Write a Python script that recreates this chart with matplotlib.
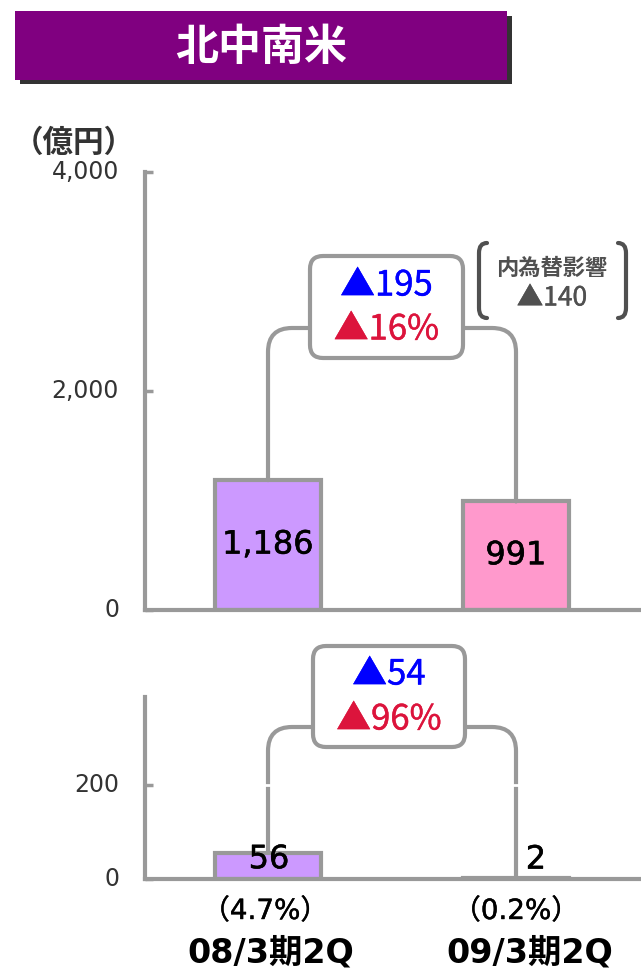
import matplotlib
matplotlib.use('Agg')
import matplotlib.pyplot as plt
import matplotlib.patheffects as pe
from matplotlib.patches import FancyBboxPatch, Rectangle, PathPatch
from matplotlib.path import Path
from matplotlib.transforms import Affine2D

plt.rcParams['font.family'] = ['Noto Sans CJK JP', 'DejaVu Sans']
NUM_FONT = ['DejaVu Sans', 'Noto Sans CJK JP']

# data
periods = ['08/3期2Q', '09/3期2Q']
sales = [1186, 991]
profit = [56, 2]
margin_labels = ['（4.7%）', '（0.2%）']
sales_change = ['▲195', '▲16%']
profit_change = ['▲54', '▲96%']
fx_label = '内為替影響'
fx_value = '▲140'
sales_ticks = [0, 2000, 4000]
profit_ticks = [0, 200]
bar_colors = ['#CC99FF', '#FF99CC']

GRAY = '#999999'
DARK = '#333333'
W, H = 641, 969
fig = plt.figure(figsize=(W / 100, H / 100), dpi=100)
# pixel coords, y measured from the top
pix = Affine2D().scale(0.01, -0.01).translate(0, H / 100) + fig.dpi_scale_trans


def heavy(color, w=0.4):
    return [pe.withStroke(linewidth=w, foreground=color)]


def axrect(x0, y0, x1, y1):
    return [x0 / W, 1 - y1 / H, (x1 - x0) / W, (y1 - y0) / H]


ax1 = fig.add_axes(axrect(145, 172, 641, 610))
ax2 = fig.add_axes(axrect(145, 697, 641, 879))
x = [0, 1]

for ax, vals, ticks, top in [(ax1, sales, sales_ticks, 4000), (ax2, profit, profit_ticks, 387)]:
    ax.bar(x, vals, width=0.43, color=bar_colors, edgecolor=GRAY, linewidth=3, zorder=2)
    ax.set_xlim(-0.496, 1.504)
    ax.set_ylim(0, top)
    ax.patch.set_visible(False)
    for s in ['top', 'right']:
        ax.spines[s].set_visible(False)
    for s in ['left', 'bottom']:
        ax.spines[s].set_color(GRAY)
        ax.spines[s].set_linewidth(3)
        ax.spines[s].set_zorder(3)
    ax.set_xticks([])
    ax.set_yticks(ticks)
    ax.tick_params(axis='y', direction='in', length=6, width=2.5, color=GRAY, labelleft=False)
    for t in ticks:
        ax.annotate(f'{t:,}', xy=(0, t), xycoords=('axes fraction', 'data'),
                    xytext=(-26, 0), textcoords='offset pixels', ha='right', va='center',
                    fontsize=17, color=DARK, family=NUM_FONT)

# value labels
for xi, v in zip(x, sales):
    ax1.text(xi, v / 2, f'{v:,}', ha='center', va='center', fontsize=23, color='black',
             zorder=4, family=NUM_FONT, path_effects=heavy('black'))
label_offsets = [(1, -7), (20, 18)]
for xi, v, off in zip(x, profit, label_offsets):
    ax2.annotate(f'{v:,}', xy=(xi, v), xytext=off, textcoords='offset pixels',
                 ha='center', va='center', fontsize=23, color='black', zorder=6,
                 family=NUM_FONT, path_effects=heavy('black'))

cat_offsets = [3, 14]
for xi, m, p, dx in zip(x, margin_labels, periods, cat_offsets):
    ax2.annotate(m, xy=(xi, 0), xytext=(-3 if xi == 0 else 0, -32), textcoords='offset pixels',
                 ha='center', va='center', fontsize=20, color='black', family=NUM_FONT,
                 path_effects=heavy('black', 0.3))
    ax2.annotate(p, xy=(xi, 0), xytext=(dx, -74), textcoords='offset pixels',
                 ha='center', va='center', fontsize=24, fontweight='bold', color='black',
                 family=NUM_FONT)


def change_box(ax, vals, box, hline_y, texts, text_y):
    x0, y0, x1, y1 = box
    for xi, v, edge in zip(x, vals, [x0, x1]):
        ax.annotate('', xy=(xi, v), xycoords='data', xytext=(edge, hline_y), textcoords=pix,
                    arrowprops=dict(arrowstyle='-', color=GRAY, lw=3, shrinkA=0, shrinkB=0,
                                    connectionstyle='angle,angleA=0,angleB=90,rad=24'))
    fig.add_artist(FancyBboxPatch((x0, y0), x1 - x0, y1 - y0, transform=pix,
                                  boxstyle='round,pad=0,rounding_size=13',
                                  facecolor='white', edgecolor=GRAY, linewidth=3, zorder=5))
    for t, ty, c in zip(texts, text_y, ['#0000FF', '#DC143C']):
        fig.text((x0 + x1) / 2, ty, t, transform=pix, ha='center', va='center',
                 fontsize=25, color=c, zorder=6, path_effects=heavy(c, 0.3))


change_box(ax1, sales, (310, 256, 463, 358), 328, sales_change, [286, 330])
change_box(ax2, profit, (313, 646, 465, 747), 727, profit_change, [675, 720])

# small breaks in the lower connectors
for xi in x:
    ax2.plot([xi - 0.03, xi + 0.03], [200, 200], color='white', linewidth=2, zorder=5)

# exchange-rate note with brackets
for sgn, xe in [(1, 487), (-1, 618)]:
    xo = xe - sgn * 8
    br = Path([(xe, 243), (xo, 243), (xo, 253), (xo, 308), (xo, 318), (xe, 318)],
              [Path.MOVETO, Path.CURVE3, Path.CURVE3, Path.LINETO, Path.CURVE3, Path.CURVE3])
    fig.add_artist(PathPatch(br, transform=pix, facecolor='none', edgecolor='#505050',
                             linewidth=3, capstyle='round'))
fig.text(552, 268, fx_label, transform=pix, ha='center', va='center', fontsize=16,
         fontweight='bold', color='#505050')
fig.text(552, 298, fx_value, transform=pix, ha='center', va='center', fontsize=19,
         color='#505050', path_effects=heavy('#505050', 0.3))

# title banner
fig.add_artist(Rectangle((20, 16), 492, 68, transform=pix, facecolor='#333333', edgecolor='none'))
fig.add_artist(Rectangle((15, 11), 492, 69, transform=pix, facecolor='#800080', edgecolor='none'))
fig.text(261, 47, '北中南米', transform=pix, ha='center', va='center', fontsize=31,
         fontweight='bold', color='white')
fig.text(74, 143, '（億円）', transform=pix, ha='center', va='center', fontsize=22,
         fontweight='bold', color=DARK)

fig.savefig('out.png', dpi=100)
